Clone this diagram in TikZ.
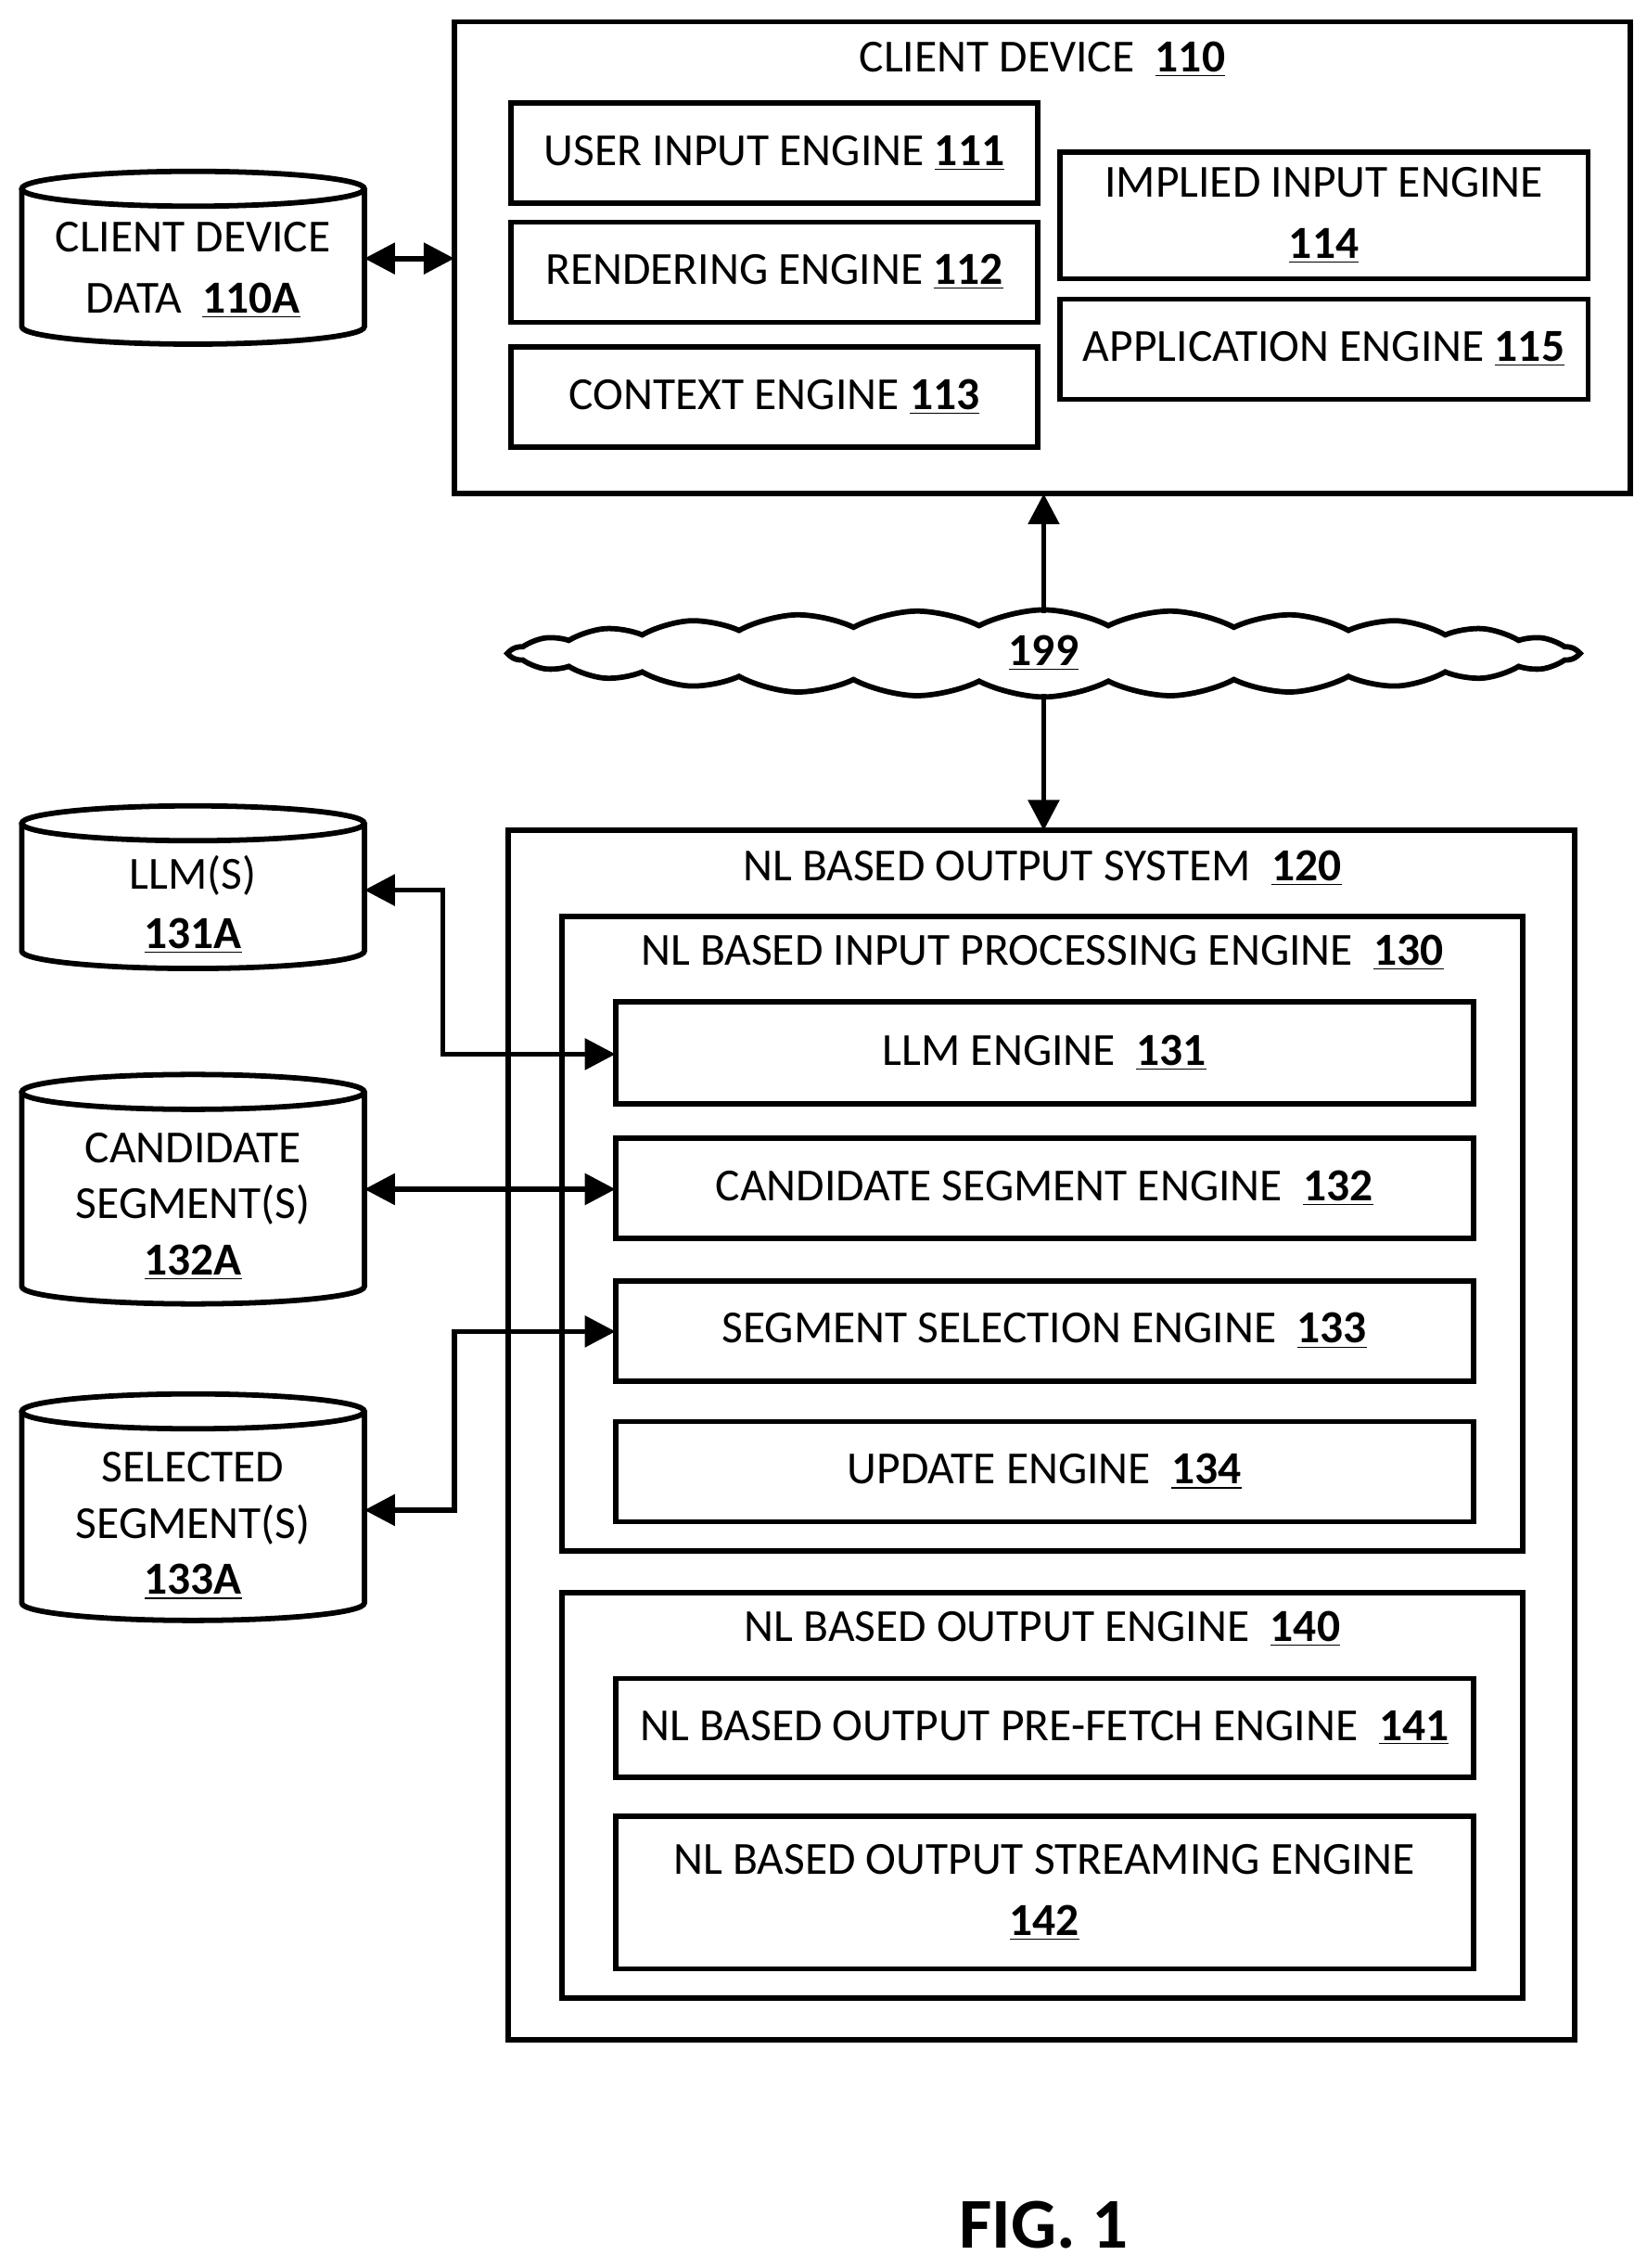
\documentclass[tikz,border=0pt]{standalone}
\usepackage{fontspec}
\setmainfont{Carlito}
\usetikzlibrary{shapes.symbols,arrows.meta}
\newcommand{\un}[1]{\underline{\textbf{#1}}}
\begin{document}
\begin{tikzpicture}[x=0.02cm,y=-0.02cm,
  every node/.style={font=\fontsize{18}{22}\selectfont, align=center},
  bx/.style={draw,line width=2.1pt},
  ln/.style={line width=2.1pt},
  arr/.style={ln,{Triangle[length=12pt,width=12pt]}-{Triangle[length=12pt,width=12pt]}},
  sarr/.style={ln,-{Triangle[length=12pt,width=12pt]}}]
\useasboundingbox (0,0) rectangle (1134,1562);
\newcommand{\cyl}[4]{% x1 x2 ytop ybot
  \draw[ln] ({(#1+#2)/2},{#3+12}) ellipse ({(#2-#1)/2} and 12);
  \draw[ln] (#1,{#3+12}) -- (#1,{#4-12}) arc[start angle=180,end angle=0,x radius={(#2-#1)/2},y radius=12] -- (#2,{#3+12});}
% client device
\draw[bx] (313,15) rectangle (1123,340);
\node (cd) at (718,41) {CLIENT DEVICE~~\un{110}};
\draw[bx] (352,71) rectangle (715,140) node[midway] (e111) {USER INPUT ENGINE \un{111}};
\draw[bx] (352,153) rectangle (715,222) node[midway] (e112) {RENDERING ENGINE \un{112}};
\draw[bx] (352,239) rectangle (715,308) node[midway] (e113) {CONTEXT ENGINE \un{113}};
\draw[bx] (730,105) rectangle (1094,192) node[midway] (e114) {IMPLIED INPUT ENGINE\\[2pt] \un{114}};
\draw[bx] (730,206) rectangle (1094,275) node[midway] (e115) {APPLICATION ENGINE \un{115}};
\coordinate (cdl) at (313,178);
\coordinate (cdb) at (719,340);
% cylinders
\cyl{15}{251}{118}{237}
\node (d110) at (133,186) {CLIENT DEVICE\\[2pt] DATA~~\un{110A}};
\coordinate (d110r) at (251,178);
\draw[arr] (d110r) -- (cdl);
\cyl{15}{251}{555}{667}
\node (llm) at (133,623) {LLM(S)\\[1pt] \un{131A}};
\cyl{15}{251}{740}{898}
\node (cs) at (133,831) {CANDIDATE\\[0pt] SEGMENT(S)\\[0pt] \un{132A}};
\cyl{15}{251}{960}{1116}
\node (ss) at (133,1051) {SELECTED\\[0pt] SEGMENT(S)\\[0pt] \un{133A}};
% cloud
\node[cloud, draw, fill=white, line width=2.1pt, cloud puffs=26, cloud puff arc=55, minimum width=14.7cm, minimum height=1.2cm, inner sep=0pt] (cl) at (719,450) {};
\node at (719,450) {\un{199}};
\coordinate (clt) at (719,422);
\coordinate (clb) at (719,478);
\draw[sarr] (clt) -- (cdb);
% NL system
\draw[bx] (350,572) rectangle (1085,1405);
\node at (718,598) {NL BASED OUTPUT SYSTEM~~\un{120}};
\coordinate (nlt) at (719,572);
\draw[sarr] (clb) -- (nlt);
\draw[bx] (387,631) rectangle (1049,1068);
\node at (718,656) {NL BASED INPUT PROCESSING ENGINE~~\un{130}};
\draw[bx] (424,690) rectangle (1015,760) node[midway] (e131) {LLM ENGINE~~\un{131}};
\draw[bx] (424,784) rectangle (1015,853) node[midway] (e132) {CANDIDATE SEGMENT ENGINE~~\un{132}};
\draw[bx] (424,882) rectangle (1015,951) node[midway] (e133) {SEGMENT SELECTION ENGINE~~\un{133}};
\draw[bx] (424,979) rectangle (1015,1048) node[midway] (e134) {UPDATE ENGINE~~\un{134}};
\draw[bx] (387,1097) rectangle (1049,1376);
\node at (718,1122) {NL BASED OUTPUT ENGINE~~\un{140}};
\draw[bx] (424,1156) rectangle (1015,1224) node[midway] (e141) {NL BASED OUTPUT PRE-FETCH ENGINE~~\un{141}};
\draw[bx] (424,1251) rectangle (1015,1356) node[midway] (e142) {NL BASED OUTPUT STREAMING ENGINE\\[2pt] \un{142}};
% connectors
\coordinate (llmr) at (251,613); \coordinate (e131l) at (424,726);
\draw[arr] (llmr) -- (305,613) |- (e131l);
\coordinate (csr) at (251,819); \coordinate (e132l) at (424,819);
\draw[arr] (csr) -- (e132l);
\coordinate (ssr) at (251,1040); \coordinate (e133l) at (424,917);
\draw[arr] (ssr) -- (313,1040) |- (e133l);
\node[font=\fontsize{28}{32}\selectfont\bfseries] (fig) at (719,1532) {FIG. 1};
\end{tikzpicture}
\end{document}
